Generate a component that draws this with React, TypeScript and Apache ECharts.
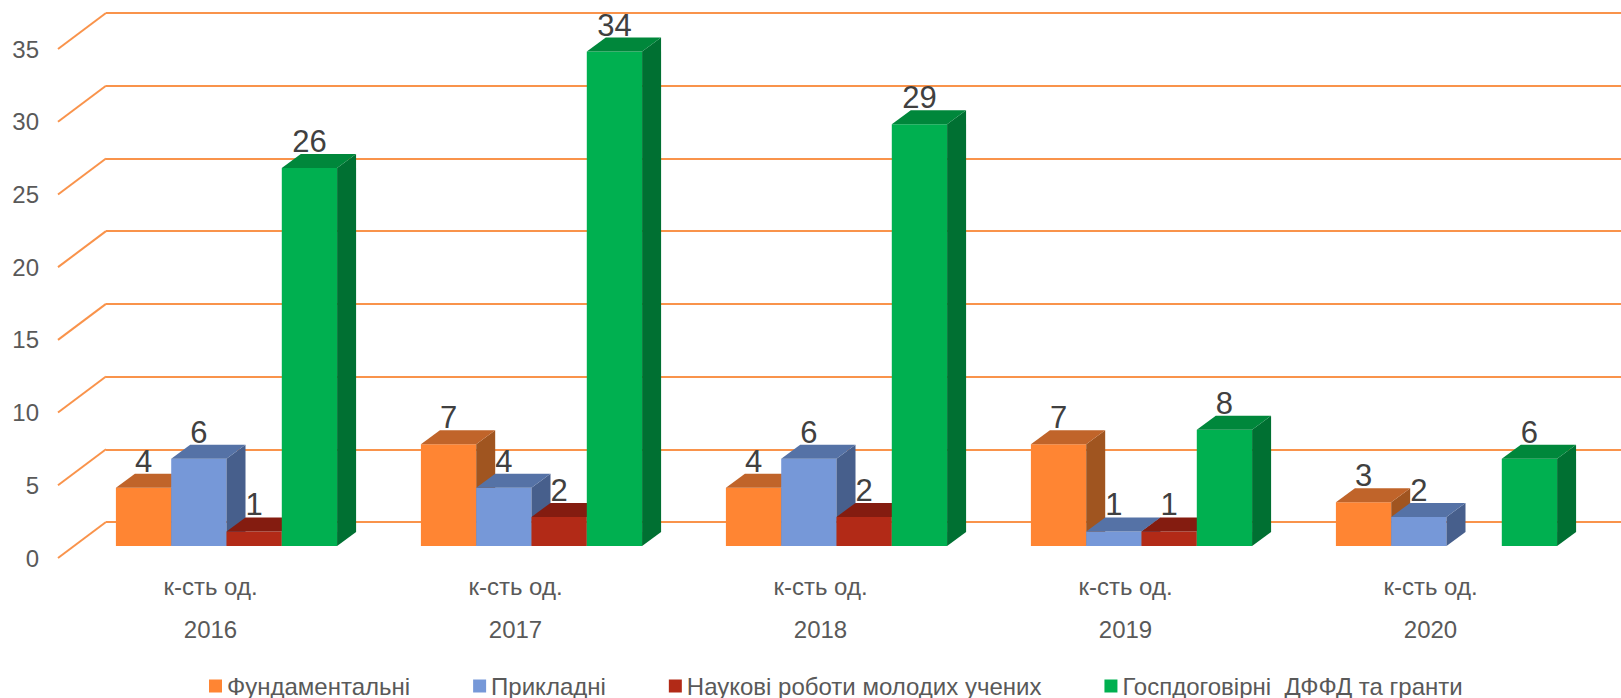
import React, { useEffect, useRef } from "react";
import * as echarts from "echarts";

const years = ["2016", "2017", "2018", "2019", "2020"];
const subLabel = "к-сть од.";
const seriesNames = [
  "Фундаментальні",
  "Прикладні",
  "Наукові роботи молодих учених",
  "Госпдоговірні  ДФФД та гранти",
];
const fundamental = [4, 7, 4, 7, 3];
const applied = [6, 4, 6, 1, 2];
const young = [1, 2, 2, 1, null];
const contracts = [26, 34, 29, 8, 6];
const yTicks = [0, 5, 10, 15, 20, 25, 30, 35];

const seriesValues = [fundamental, applied, young, contracts];
const frontColors = ["#FF8533", "#7698D8", "#B22A17", "#00B050"];
const topColors = ["#C0642A", "#5572A6", "#841C10", "#00873B"];
const sideColors = ["#A05520", "#475F8C", "#6E170D", "#007032"];

const FONT = "'Liberation Sans', Arial, sans-serif";
const GRID_COLOR = "#F9934B";
// depth offsets (px)
const BAR_DX = 19;
const BAR_DY = 14;
const BACK_DX = 32;
const BACK_DY = 24;
const FRONT_DX = -16;
const FRONT_DY = 12;

const PLANE_LEFT = 74;
const PLANE_TOP = 37;
const PLANE_W = 1525;
const PLANE_H = 509;

export default function App() {
  const ref = useRef<HTMLDivElement>(null);
  useEffect(() => {
    document.body.style.margin = "0";
    const chart = echarts.init(ref.current!, null, { renderer: "svg" });

    const barSeries = seriesValues.map((vals, s) => ({
      type: "custom",
      name: seriesNames[s],
      xAxisIndex: 0,
      yAxisIndex: 0,
      itemStyle: { color: frontColors[s] },
      data: vals.map((v, i) => [i, v]),
      z: 5,
      renderItem: (params: any, api: any) => {
        const v = api.value(1);
        if (v === null || v === undefined || isNaN(v)) return null;
        const i = api.value(0);
        const band = api.size([1, 0])[0];
        const bw = band * 0.1813;
        const center = api.coord([i, 0])[0];
        const x0 = center - 2 * bw + s * bw;
        const x1 = x0 + bw;
        const bottom = api.coord([i, 0])[1];
        const top = api.coord([i, v])[1];
        return {
          type: "group",
          children: [
            {
              type: "rect",
              shape: { x: x0, y: top, width: bw, height: bottom - top },
              style: { fill: frontColors[s] },
            },
            {
              type: "polygon",
              shape: {
                points: [
                  [x1, top],
                  [x1 + BAR_DX, top - BAR_DY],
                  [x1 + BAR_DX, bottom - BAR_DY],
                  [x1, bottom],
                ],
              },
              style: { fill: sideColors[s] },
            },
            {
              type: "polygon",
              shape: {
                points: [
                  [x0, top],
                  [x1, top],
                  [x1 + BAR_DX, top - BAR_DY],
                  [x0 + BAR_DX, top - BAR_DY],
                ],
              },
              style: { fill: topColors[s] },
            },
            {
              type: "text",
              style: {
                text: String(v),
                x: (x0 + x1) / 2,
                y: top - BAR_DY + 3,
                align: "center",
                verticalAlign: "bottom",
                fill: "#404040",
                font: `31px ${FONT}`,
              },
              z2: 10,
            },
          ],
        };
      },
    }));

    const diagonalSeries = {
      type: "custom",
      name: "diag",
      xAxisIndex: 2,
      yAxisIndex: 2,
      silent: true,
      z: 1,
      data: yTicks.map((t) => [0, t]),
      renderItem: (params: any, api: any) => {
        const p = api.coord([0, api.value(1)]);
        const dx = BACK_DX - FRONT_DX;
        const dy = BACK_DY + FRONT_DY;
        return {
          type: "line",
          shape: { x1: p[0], y1: p[1], x2: p[0] - dx, y2: p[1] + dy },
          style: { stroke: GRID_COLOR, lineWidth: 2 },
        };
      },
    };

    chart.setOption({
      animation: false,
      backgroundColor: "#ffffff",
      grid: [
        { left: PLANE_LEFT, top: PLANE_TOP, width: PLANE_W, height: PLANE_H },
        {
          left: PLANE_LEFT + FRONT_DX,
          top: PLANE_TOP + FRONT_DY,
          width: PLANE_W,
          height: PLANE_H,
        },
        {
          left: PLANE_LEFT + BACK_DX,
          top: PLANE_TOP - BACK_DY,
          right: 0,
          height: PLANE_H,
        },
      ],
      xAxis: [
        { type: "category", gridIndex: 0, data: years, show: false },
        {
          type: "category",
          gridIndex: 1,
          data: years,
          axisLine: { show: false },
          axisTick: { show: false },
          axisLabel: {
            formatter: (y: string) => `${subLabel}\n${y}`,
            color: "#595959",
            fontSize: 24,
            fontFamily: FONT,
            lineHeight: 43,
            margin: 7,
          },
        },
        { type: "value", gridIndex: 2, min: 0, max: 1, show: false },
      ],
      yAxis: [
        { type: "value", gridIndex: 0, min: 0, max: 35, interval: 5, show: false },
        {
          type: "value",
          gridIndex: 1,
          min: 0,
          max: 35,
          interval: 5,
          axisLine: { show: false },
          axisTick: { show: false },
          splitLine: { show: false },
          axisLabel: {
            color: "#595959",
            fontSize: 24,
            fontFamily: FONT,
            margin: 19,
          },
        },
        {
          type: "value",
          gridIndex: 2,
          min: 0,
          max: 35,
          interval: 5,
          axisLine: { show: false },
          axisTick: { show: false },
          axisLabel: { show: false },
          splitLine: { lineStyle: { color: GRID_COLOR, width: 2 } },
        },
      ],
      legend: {
        data: seriesNames,
        left: 209,
        top: 674,
        padding: 0,
        icon: "rect",
        itemWidth: 13,
        itemHeight: 13,
        itemGap: 63,
        textStyle: { color: "#595959", fontSize: 24, fontFamily: FONT },
      },
      series: [diagonalSeries, ...barSeries],
    });
    return () => chart.dispose();
  }, []);
  return (
    <div
      ref={ref}
      style={{ width: 1621, height: 698, overflow: "hidden", background: "#fff" }}
    />
  );
}
